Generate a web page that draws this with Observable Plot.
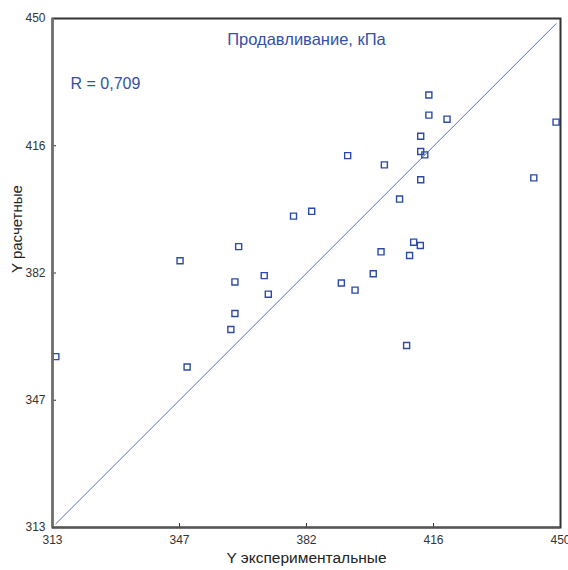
<!DOCTYPE html>
<html>
<head>
<meta charset="utf-8">
<script src="https://cdn.jsdelivr.net/npm/d3@7"></script>
<script src="https://cdn.jsdelivr.net/npm/@observablehq/plot@0.6"></script>
<style>
  html, body { margin: 0; padding: 0; background: #fff; }
  svg { display: block; }
</style>
</head>
<body>
<div id="chart"></div>
<script>
// Experimental (x) and calculated (y) values, kPa
const xExp  = [392.6, 402.5, 406.6, 378.0, 382.9, 414.5, 414.5, 419.4, 448.8, 412.3,
               412.3, 413.4, 412.3, 442.8, 347.4, 313.9, 349.3, 363.2, 362.2, 370.1,
               371.2, 362.2, 361.1, 390.9, 394.6, 399.5, 401.6, 410.4, 412.2, 409.3, 408.5];
const yCalc = [413.1, 410.6, 401.4, 396.8, 398.1, 429.4, 424.0, 422.9, 422.1, 418.3,
               414.2, 413.3, 406.6, 407.1, 384.8, 359.0, 356.2, 388.6, 379.1, 380.8,
               375.8, 370.6, 366.3, 378.8, 376.9, 381.3, 387.2, 389.8, 388.9, 386.2, 362.0];
// Diagonal reference line ends
const lineX = [313.9, 448.8];
const lineY = [314.0, 448.6];
// Axis
const axisDomain = [313, 450];
const tickValues = [313, 347.25, 381.5, 415.75, 450];
const tickLabels = ["313", "347", "382", "416", "450"];
const titleText = "Продавливание, кПа";
const rText = "R = 0,709";
const xTitle = "Y экспериментальные";
const yTitle = "Y расчетные";

const points = xExp.map((x, i) => ({x, y: yCalc[i]}));
const diag = lineX.map((x, i) => ({x, y: lineY[i]}));
const fmt = d => tickLabels[tickValues.indexOf(d)];

const blue = "#3550a8";
const font = "'Liberation Sans', Arial, sans-serif";

const chart = Plot.plot({
  width: 568,
  height: 570,
  marginLeft: 52,
  marginRight: 8,
  marginTop: 18,
  marginBottom: 43,
  style: {fontFamily: font, fontSize: "12px", color: "#333", background: "#fff"},
  x: {domain: axisDomain, ticks: tickValues, tickFormat: fmt},
  y: {domain: axisDomain, ticks: tickValues, tickFormat: fmt},
  marks: [
    Plot.axisX({ticks: tickValues, tickFormat: fmt, tickSize: 0, tickPadding: 8, label: null, fontSize: 12, fill: "#333"}),
    Plot.axisY({ticks: tickValues, tickFormat: fmt, tickSize: 0, tickPadding: 7, label: null, fontSize: 12, fill: "#333"}),
    Plot.tickX(tickValues, {x: d => d, insetTop: 505, stroke: "#333", strokeWidth: 1}),
    Plot.tickY(tickValues, {y: d => d, insetRight: 504, stroke: "#333", strokeWidth: 1}),
    Plot.line(diag, {x: "x", y: "y", stroke: "#5a70c4", strokeWidth: 1}),
    Plot.dot(points, {x: "x", y: "y", symbol: "square", r: 3.4, stroke: "#2c4aa8", strokeWidth: 1.4, fill: "none"}),
    Plot.frame({stroke: "#333", strokeWidth: 2}),
    Plot.ruleX([axisDomain[0]], {stroke: "#707070", strokeWidth: 2.5}),
    Plot.ruleY([axisDomain[0]], {stroke: "#555", strokeWidth: 2}),
    Plot.text([titleText], {text: d => d, frameAnchor: "top", dy: 15, fill: blue, fontSize: 16.5}),
    Plot.text([rText], {text: d => d, frameAnchor: "top-left", dx: 18, dy: 59, textAnchor: "start", fill: blue, fontSize: 16}),
    Plot.text([xTitle], {text: d => d, frameAnchor: "bottom", dy: 35, fill: "#222", fontSize: 15.5}),
    Plot.text([yTitle], {text: d => d, frameAnchor: "left", dx: -35, rotate: -90, fill: "#222", fontSize: 15})
  ]
});
document.getElementById("chart").appendChild(chart);
</script>
</body>
</html>
